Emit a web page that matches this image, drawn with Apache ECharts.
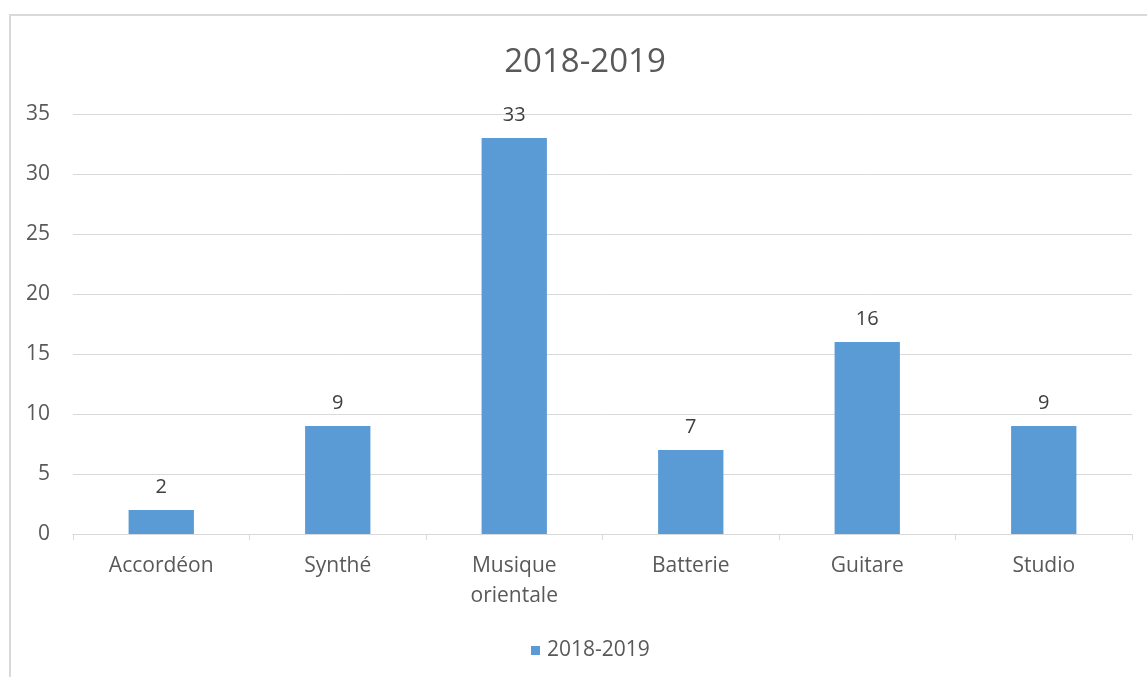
<!DOCTYPE html>
<html>
<head>
<meta charset="utf-8">
<script src="https://cdn.jsdelivr.net/npm/echarts@6/dist/echarts.min.js"></script>
<style>
html,body{margin:0;padding:0;background:#fff;}
#wrap{position:relative;width:1147px;height:677px;overflow:hidden;}
#frame{position:absolute;left:9px;top:14px;width:1200px;height:700px;border:2px solid #d9d9d9;box-sizing:border-box;}
#chart{position:absolute;left:0;top:0;width:1170px;height:677px;}
</style>
</head>
<body>
<div id="wrap">
  <div id="frame"></div>
  <div id="chart"></div>
</div>
<script>
const categories = ['Accordéon', 'Synthé', 'Musique\norientale', 'Batterie', 'Guitare', 'Studio'];
const values = [2, 9, 33, 7, 16, 9];
const seriesName = '2018-2019';

const font = '"Open Sans", "Noto Sans", sans-serif';
let chart = echarts.init(document.getElementById('chart'));
chart.setOption({
  animation: false,
  textStyle: { fontFamily: font },
  title: {
    text: '2018-2019',
    left: 'center',
    top: 41,
    textStyle: { fontSize: 33, fontWeight: 'normal', color: '#595959', fontFamily: font }
  },
  legend: {
    bottom: 11,
    left: 526,
    itemWidth: 9,
    itemHeight: 9,
    icon: 'rect',
    textStyle: { fontSize: 21, color: '#595959', fontFamily: font, padding: [0, 0, 0, 2] }
  },
  grid: { left: 73, right: 38, top: 114, bottom: 143 },
  xAxis: {
    type: 'category',
    data: categories,
    axisLine: { lineStyle: { color: '#d9d9d9', width: 1 } },
    axisTick: { show: true, alignWithLabel: false, length: 6, lineStyle: { color: '#d9d9d9' } },
    axisLabel: { fontSize: 21, color: '#595959', margin: 17, lineHeight: 30, fontFamily: font }
  },
  yAxis: {
    type: 'value',
    min: 0,
    max: 35,
    interval: 5,
    axisLine: { show: false },
    axisTick: { show: false },
    axisLabel: { fontSize: 21, color: '#595959', margin: 23, fontFamily: font },
    splitLine: { lineStyle: { color: '#d9d9d9', width: 1 } }
  },
  series: [{
    name: seriesName,
    type: 'bar',
    data: values,
    barWidth: '37%',
    itemStyle: { color: '#5b9bd5' },
    label: { show: true, position: 'top', distance: 13, fontSize: 20, color: '#404040', fontFamily: font }
  }]
});
</script>
</body>
</html>
